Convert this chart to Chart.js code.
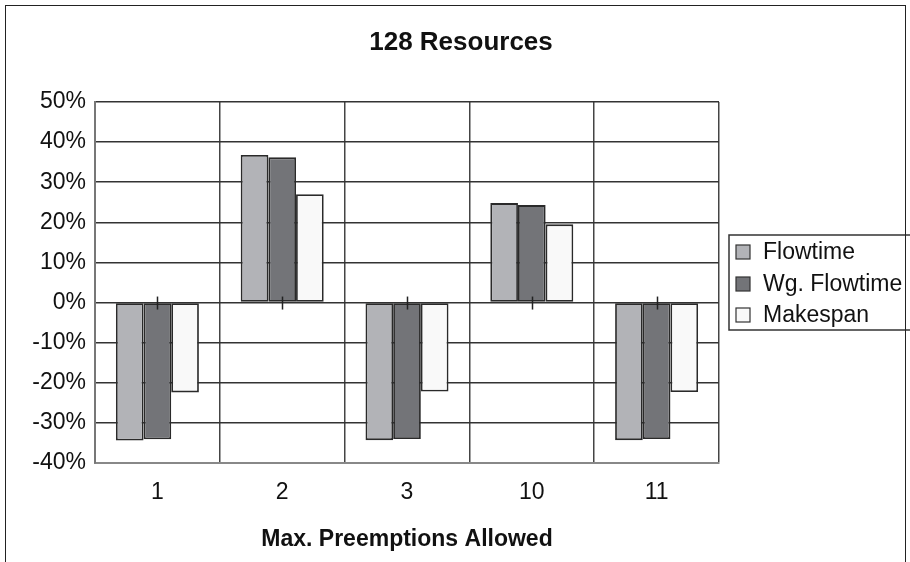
<!DOCTYPE html>
<html>
<head>
<meta charset="utf-8">
<script src="https://cdn.jsdelivr.net/npm/chart.js@4.4.0/dist/chart.umd.min.js"></script>
<style>
  html, body { margin: 0; padding: 0; background: #fff; }
  #wrap { position: relative; width: 910px; height: 562px; overflow: hidden; }
  #frame { position: absolute; left: 5px; top: 5px; width: 901px; height: 600px; border: 1.5px solid #222; box-sizing: border-box; pointer-events: none; }
  canvas { position: absolute; left: 0; top: 0; }
</style>
</head>
<body>
<div id="wrap">
  <canvas id="c" width="910" height="562"></canvas>
  <div id="frame"></div>
</div>
<script>
const categories = ['1', '2', '3', '10', '11'];
const flowtime   = [-34.4, 36.8, -34.3, 24.8, -34.3];
const wgFlowtime = [-34.1, 36.2, -34.0, 24.3, -34.0];
const makespan   = [-22.4, 27.0, -22.2, 19.5, -22.3];
const yTicks = [50, 40, 30, 20, 10, 0, -10, -20, -30, -40];
const seriesNames = ['Flowtime', 'Wg. Flowtime', 'Makespan'];
const seriesColors = ['#b2b3b7', '#737478', '#f9f9f9'];
const titleText = '128 Resources';
const xTitleText = 'Max. Preemptions Allowed';

const FONT = '"Liberation Sans", Arial, Helvetica, sans-serif';

const extras = {
  id: 'extras',
  afterDatasetsDraw(chart) {
    const ctx = chart.ctx;
    const x = chart.scales.x, y = chart.scales.y;
    const y0 = y.getPixelForValue(0);
    ctx.save();
    ctx.strokeStyle = '#222';
    ctx.lineWidth = 1.5;
    categories.forEach((c, i) => {
      const px = Math.round(x.getPixelForValue(i)) + 0.5;
      ctx.beginPath();
      ctx.moveTo(px, y0 - 6);
      ctx.lineTo(px, y0 + 7);
      ctx.stroke();
    });
    ctx.restore();
  },
  afterDraw(chart) {
    const ctx = chart.ctx;
    ctx.save();
    ctx.fillStyle = '#111';
    ctx.font = 'bold 26px ' + FONT;
    ctx.textAlign = 'center';
    ctx.textBaseline = 'middle';
    ctx.fillText(titleText, 461, 43);
    ctx.strokeStyle = '#333';
    ctx.lineWidth = 1.5;
    ctx.strokeRect(729, 235, 200, 95);
    ctx.font = '23px ' + FONT;
    ctx.textAlign = 'left';
    const ys = [252, 284, 315];
    seriesNames.forEach((n, i) => {
      ctx.fillStyle = seriesColors[i];
      ctx.fillRect(736, ys[i] - 7, 14, 14);
      ctx.strokeStyle = '#333';
      ctx.lineWidth = 1.2;
      ctx.strokeRect(736, ys[i] - 7, 14, 14);
      ctx.fillStyle = '#111';
      ctx.fillText(n, 763, ys[i] + 1);
    });
    ctx.restore();
  }
};

new Chart(document.getElementById('c'), {
  type: 'bar',
  data: {
    labels: categories,
    datasets: [
      { label: seriesNames[0], data: flowtime, backgroundColor: seriesColors[0] },
      { label: seriesNames[1], data: wgFlowtime, backgroundColor: seriesColors[1] },
      { label: seriesNames[2], data: makespan, backgroundColor: seriesColors[2] }
    ].map(d => Object.assign(d, { borderColor: '#2a2a2a', borderWidth: 1.8, borderSkipped: false, categoryPercentage: 0.665, barPercentage: 1 }))
  },
  options: {
    responsive: false,
    animation: false,
    layout: { padding: { top: 102, right: 191, bottom: 0, left: 0 } },
    plugins: { legend: { display: false }, title: { display: false }, tooltip: { enabled: false } },
    scales: {
      x: {
        grid: { offset: true, color: '#444', lineWidth: 1.5, drawTicks: false },
        border: { display: true, color: '#888', width: 2 },
        ticks: { color: '#111', font: { family: FONT, size: 23 }, padding: 16, maxRotation: 0, autoSkip: false },
        title: { display: true, text: xTitleText, color: '#111', font: { family: FONT, size: 23, weight: 'bold' }, padding: { top: 0, bottom: 9 } },
        afterFit(s) { s.height = 99; }
      },
      y: {
        min: -40, max: 50,
        afterBuildTicks(s) { s.ticks = yTicks.map(v => ({ value: v })); },
        grid: { color: '#333', lineWidth: 1.5, drawTicks: false },
        border: { display: true, color: '#777', width: 2 },
        ticks: { color: '#111', font: { family: FONT, size: 23 }, padding: 9, callback: v => v + '%' },
        afterFit(s) { s.width = 95; }
      }
    }
  },
  plugins: [extras]
});
</script>
</body>
</html>
